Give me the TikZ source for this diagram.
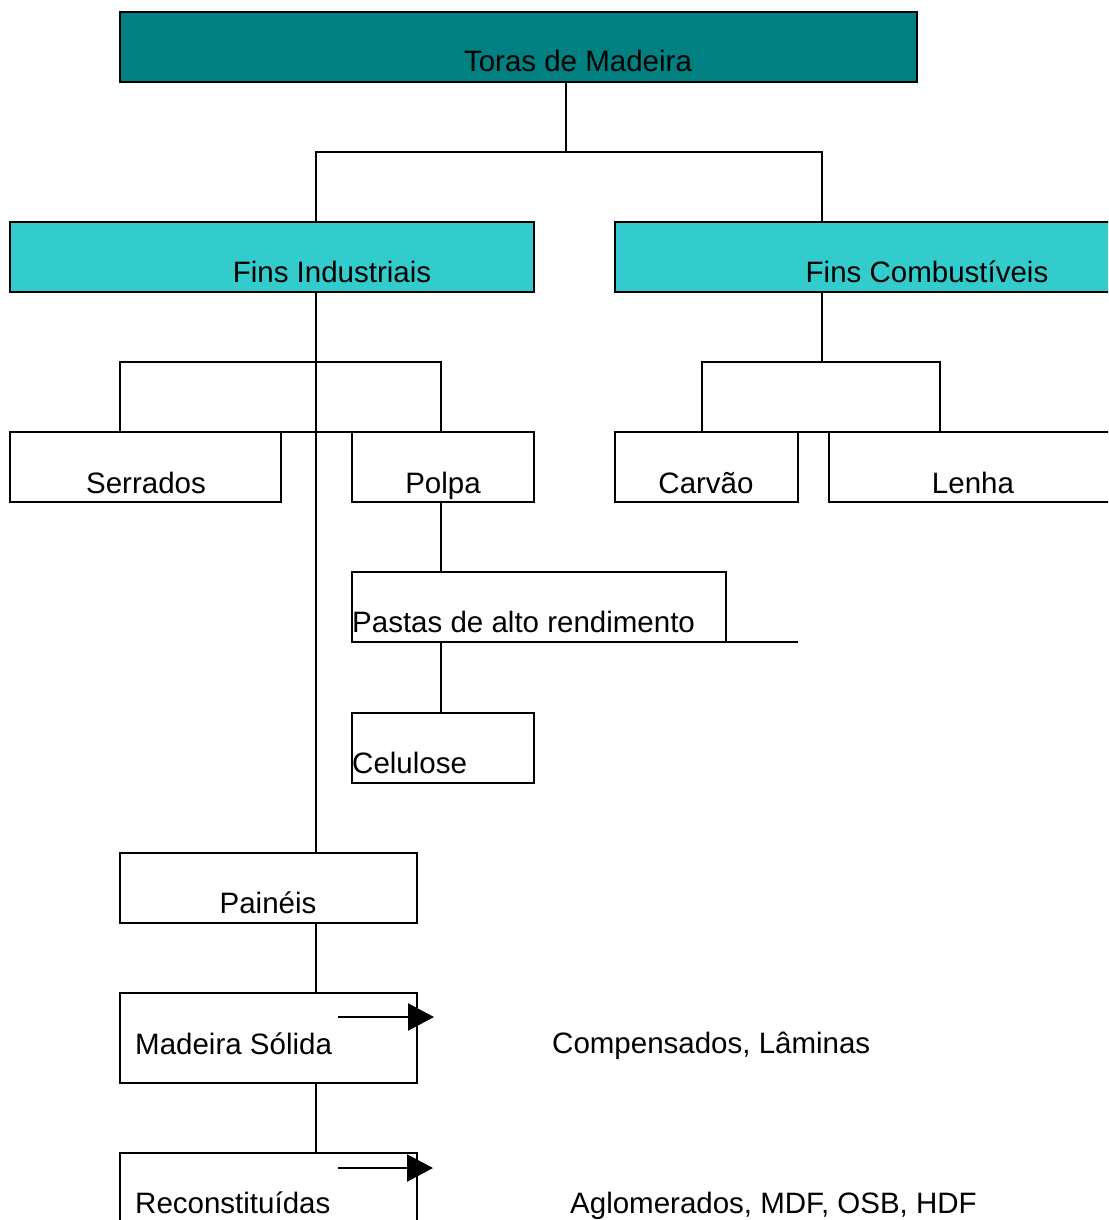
\documentclass[tikz,border=0pt]{standalone}
\usepackage{fontspec}
\setmainfont{Liberation Sans}
\usetikzlibrary{arrows.meta}
\definecolor{tealbox}{HTML}{008080}
\definecolor{turqbox}{HTML}{33CCCC}
\tikzset{
  boxn/.style={draw=black, line width=2.4pt, inner sep=0pt, outer sep=0pt, anchor=north west, minimum width=#1},
  boxn/.default=100pt,
  txt/.style={inner sep=0pt, font=\fontsize{29.5}{34}\selectfont},
  conn/.style={line width=2.4pt},
  arr/.style={line width=2.4pt, -{Triangle[length=26pt,width=27pt]}}
}
\begin{document}
\begin{tikzpicture}[x=1pt,y=-1pt]
\clip (0,0) rectangle (1108,1220);
\fill[white] (0,0) rectangle (1108,1220);
% boxes
\node[boxn=797pt, minimum height=70pt, fill=tealbox] (toras) at (120,12) {};
\node[boxn=524pt, minimum height=70pt, fill=turqbox] (fi) at (10,222) {};
\node[boxn=515pt, minimum height=70pt, fill=turqbox] (fc) at (615,222) {};
\node[boxn=271pt, minimum height=70pt] (serr) at (10,432) {};
\node[boxn=182pt, minimum height=70pt] (polpa) at (352,432) {};
\node[boxn=183pt, minimum height=70pt] (carv) at (615,432) {};
\node[boxn=300pt, minimum height=70pt] (lenha) at (829,432) {};
\node[boxn=374pt, minimum height=70pt] (pastas) at (352,572) {};
\node[boxn=182pt, minimum height=70pt] (celu) at (352,713) {};
\node[boxn=297pt, minimum height=70pt] (painel) at (120,853) {};
\node[boxn=297pt, minimum height=90pt] (mad) at (120,993) {};
\node[boxn=297pt, minimum height=90pt] (recon) at (120,1153) {};
% texts
\node[txt, anchor=base] (ttoras) at (578,72) {Toras de Madeira};
\node[txt, anchor=base] (tfi) at (332,282) {Fins Industriais};
\node[txt, anchor=base] (tfc) at (927,282) {Fins Combustíveis};
\node[txt, anchor=base] (tserr) at (146,493) {Serrados};
\node[txt, anchor=base] (tpolpa) at (443,493) {Polpa};
\node[txt, anchor=base] (tcarv) at (706,493) {Carvão};
\node[txt, anchor=base] (tlenha) at (973,493) {Lenha};
\node[txt, anchor=base west] (tpastas) at (352,632) {Pastas de alto rendimento};
\node[txt, anchor=base west] (tcelu) at (352,773) {Celulose};
\node[txt, anchor=base] (tpainel) at (268,913) {Painéis};
\node[txt, anchor=base west] (tmad) at (135,1054) {Madeira Sólida};
\node[txt, anchor=base west] (trecon) at (135,1213) {Reconstituídas};
\node[txt, anchor=base west] (tcomp) at (552,1053) {Compensados, Lâminas};
\node[txt, anchor=base west] (taglo) at (570,1213) {Aglomerados, MDF, OSB, HDF};
% junction coordinates
\coordinate (j1) at (566,152);
\coordinate (c1) at (316,152);
\coordinate (c2) at (822,152);
\coordinate (c3) at (316,362);
\coordinate (c4) at (120,362);
\coordinate (c5) at (441,362);
\coordinate (c6) at (822,362);
\coordinate (c7) at (702,362);
\coordinate (c8) at (940,362);
\coordinate (pe) at (798,642);
\coordinate (a1s) at (338,1017);
\coordinate (a1e) at (434,1017);
\coordinate (a2s) at (338,1168);
\coordinate (a2e) at (433,1168);
% connectors
\draw[conn] (toras.south -| j1) -- (j1);
\draw[conn] (c1 |- fi.north) -- (c1) -- (c2) -- (c2 |- fc.north);
\draw[conn] (c3 |- fi.south) -- (c3 |- painel.north);
\draw[conn] (c4 |- serr.north) -- (c4) -- (c5) -- (c5 |- polpa.north);
\draw[conn] (serr.north east) -- (polpa.north west);
\draw[conn] (c6 |- fc.south) -- (c6);
\draw[conn] (c7 |- carv.north) -- (c7) -- (c8) -- (c8 |- lenha.north);
\draw[conn] (carv.north east) -- (lenha.north west);
\draw[conn] (c5 |- polpa.south) -- (c5 |- pastas.north);
\draw[conn] (c5 |- pastas.south) -- (c5 |- celu.north);
\draw[conn] (pastas.south east) -- (pe);
\draw[conn] (c3 |- painel.south) -- (c3 |- mad.north);
\draw[conn] (c3 |- mad.south) -- (c3 |- recon.north);
\draw[arr] (a1s) -- (a1e);
\draw[arr] (a2s) -- (a2e);
\end{tikzpicture}
\end{document}
